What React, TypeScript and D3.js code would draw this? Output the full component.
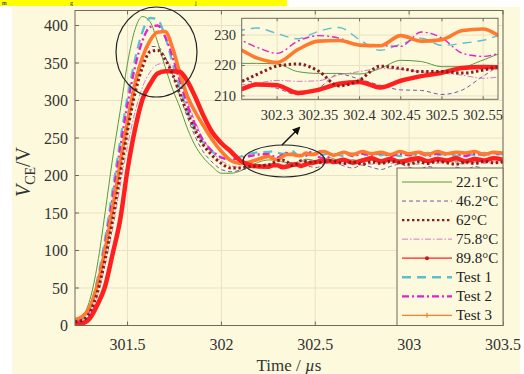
import React from 'react';
import * as d3 from 'd3';

// Time axis (µs) shared by all series
const time = [
  301.22, 301.26, 301.30, 301.34, 301.38, 301.42, 301.46, 301.50, 301.54, 301.58,
  301.62, 301.66, 301.70, 301.74, 301.78, 301.82, 301.86, 301.90, 301.95, 302.00,
  302.05, 302.10, 302.15, 302.20,
  302.25, 302.275, 302.30, 302.325, 302.35, 302.375, 302.40, 302.425, 302.45, 302.475,
  302.50, 302.525, 302.55, 302.575,
  302.6, 302.65, 302.7, 302.75, 302.8, 302.85, 302.9, 302.95, 303.0, 303.05,
  303.1, 303.15, 303.2, 303.25, 303.3, 303.35, 303.4, 303.45, 303.5,
];

const v221 = [
  5, 12, 35, 82, 150, 222, 285, 350, 395, 412, 405, 378, 345, 315, 290, 262, 240, 225, 212, 203,
  203, 206, 212, 218,
  220.7, 220.7, 220.5, 218, 217.4, 217.4, 217.2, 219, 221.7, 221.3, 219.6, 219.6, 221.8, 224,
  222, 219, 221, 218, 220, 217, 219, 221, 218, 220, 217, 220, 222, 219, 221, 218, 220, 222, 220,
];
const v462 = [
  5, 8, 22, 55, 100, 160, 220, 280, 330, 360, 372, 372, 358, 335, 305, 277, 252, 233, 218, 208,
  205, 207, 210, 213,
  215.5, 214.2, 212.5, 210.4, 212.5, 217.2, 215.5, 213.5, 212, 211.8, 210.5, 212, 216.5, 220,
  218, 213, 210, 214, 211, 208, 212, 215, 211, 208, 212, 209, 207, 211, 208, 212, 209, 207, 210,
];
const v62 = [
  5, 7, 18, 45, 88, 140, 200, 260, 310, 345, 365, 367, 355, 335, 308, 283, 260, 242, 227, 216,
  210, 210, 212, 213,
  214.2, 217, 219.8, 220.5, 218.2, 213.3, 215.2, 219.8, 219, 218, 218, 217.5, 218.5, 219.8,
  219, 216, 218, 215, 218, 216, 219, 217, 215, 218, 216, 219, 217, 215, 218, 216, 219, 217, 218,
];
const v758 = [
  5, 6, 15, 40, 80, 128, 185, 240, 285, 318, 338, 348, 350, 345, 325, 298, 272, 250, 232, 220,
  213, 211, 212, 213,
  213.5, 214.2, 215.1, 214.8, 215, 216.9, 218, 219, 218.7, 217.9, 217.5, 216.8, 215.8, 216.5,
  218, 216, 219, 217, 215, 218, 216, 219, 217, 215, 218, 216, 219, 217, 215, 218, 216, 218, 217,
];
const v898 = [
  2, 3, 10, 28, 52, 95, 140, 208, 262, 302, 322, 336, 339, 339, 338, 325, 305, 282, 258, 243,
  232, 220, 214, 212,
  211.8, 213.8, 213.5, 211, 212, 214, 214.6, 212.8, 215, 216.5, 217.6, 219.2, 219.5, 219.3,
  218, 221, 217, 220, 223, 219, 222, 218, 221, 223, 219, 222, 220, 223, 219, 222, 220, 223, 221,
];
const vTest1 = [
  5, 9, 25, 62, 115, 180, 245, 305, 355, 392, 410, 408, 385, 350, 315, 285, 262, 245, 232, 224,
  222, 225, 229, 231,
  231.4, 232.3, 230.5, 228.8, 231.2, 232.5, 228.5, 225, 227, 229, 226.6, 227.3, 228.3, 230,
  229, 226, 229, 227, 230, 227, 229, 226, 229, 227, 230, 227, 229, 226, 229, 227, 230, 228, 229,
];
const vTest2 = [
  5, 8, 22, 58, 108, 170, 235, 295, 345, 380, 398, 400, 385, 358, 325, 293, 268, 248, 233, 224,
  221, 223, 226, 228,
  228.5, 226, 224, 228, 229.8, 229, 226.7, 226.5, 226.3, 231, 229, 224, 223, 224.5,
  227, 230, 226, 229, 227, 230, 226, 229, 227, 230, 226, 229, 228, 230, 226, 229, 227, 230, 228,
];
const vTest3 = [
  8, 12, 25, 55, 100, 155, 215, 272, 322, 358, 380, 391, 392, 370, 335, 305, 285, 268, 248, 232,
  220, 216, 218, 222,
  225.5, 222.5, 221, 225.2, 228, 228.2, 226.7, 226.5, 229.8, 228, 228.5, 231.5, 232, 229,
  227, 231, 228, 232, 229, 231, 228, 232, 229, 231, 228, 232, 229, 231, 230, 232, 228, 231, 230,
];

const legendLabels = ['22.1°C', '46.2°C', '62°C', '75.8°C', '89.8°C', 'Test 1', 'Test 2', 'Test 3'];
const xTicks = [301.5, 302, 302.5, 303, 303.5];
const yTicks = [0, 50, 100, 150, 200, 250, 300, 350, 400];
const insetXTicks = [302.3, 302.35, 302.4, 302.45, 302.5, 302.55];
const insetYTicks = [210, 220, 230];

type Style = { color: string; width: number; dash?: string; legendWidth?: number; marker?: string };
const styles: Style[] = [
  { color: '#5a9a3c', width: 1 },
  { color: '#6a5aa6', width: 1, dash: '4,3' },
  { color: '#8c1c1c', width: 3, dash: '2.4,2.6' },
  { color: '#d77cc4', width: 1, dash: '6,2,1.5,2' },
  { color: '#ff1f1f', width: 4.5, legendWidth: 1.3, marker: 'dot' },
  { color: '#5cbfd0', width: 2.3, dash: '9,6' },
  { color: '#e81ec6', width: 2.3, dash: '7,3,2,3' },
  { color: '#ff7a2e', width: 3.6, legendWidth: 1.4, marker: 'tick' },
];
const seriesValues = [v221, v462, v62, v758, v898, vTest1, vTest2, vTest3];
const drawOrder = [0, 1, 3, 5, 6, 7, 4, 2];

const BG = '#fcf9dd';
const GRID = '#ebe1c4';
const AXIS = '#6f6a5c';
const FONT = 'Liberation Serif, Times New Roman, DejaVu Serif, serif';

export default function App() {
  const x = d3.scaleLinear().domain([301.22, 303.5]).range([75, 503]);
  const y = d3.scaleLinear().domain([0, 420]).range([325.5, 10.5]);
  const xi = d3.scaleLinear().domain([302.257, 302.568]).range([241.7, 498]);
  const yi = d3.scaleLinear().domain([208.9, 235.5]).range([99.3, 18.3]);

  const mainLine = (vals: number[]) =>
    d3.line<number>().x((_, i) => x(time[i])).y((d) => y(d)).curve(d3.curveMonotoneX)(vals) || '';
  const insetLine = (vals: number[]) =>
    d3.line<number>().x((_, i) => xi(time[i])).y((d) => yi(d)).curve(d3.curveMonotoneX)(vals) || '';

  const [x0, x1] = x.range();
  const [y0, y1] = y.range();
  const [ix0, ix1] = xi.range();
  const [iy0, iy1] = yi.range();

  const legX = 397, legY = 168, legW = x1 - 397, legH = y0 - 168;

  return (
    <svg width={524} height={374} style={{ position: 'absolute', left: 0, top: 0, fontFamily: FONT }}>
      <defs>
        <clipPath id="mainClip"><rect x={x0} y={y1} width={x1 - x0} height={y0 - y1} /></clipPath>
        <clipPath id="insetClip"><rect x={ix0} y={iy1} width={ix1 - ix0} height={iy0 - iy1} /></clipPath>
        <marker id="arrowHead" markerWidth="8" markerHeight="8" refX="6" refY="4" orient="auto" markerUnits="userSpaceOnUse">
          <path d="M0,0 L8,4 L0,8 z" fill="#111" />
        </marker>
      </defs>

      <rect x={0} y={0} width={524} height={374} fill="#fff" />
      <rect x={12} y={7} width={508} height={367} fill={BG} />
      <rect x={0} y={0} width={287} height={6} fill="#ffff00" />
      <g fontSize={6} fill="#111">
        <text x={2} y={5}>m</text>
        <text x={70} y={4.5}>g</text>
        <text x={195} y={4.5}>j</text>
      </g>

      {/* main grid */}
      {xTicks.map((t) => (
        <line key={'gx' + t} x1={x(t)} x2={x(t)} y1={y1} y2={y0} stroke={GRID} strokeWidth={1} />
      ))}
      {yTicks.map((t) => (
        <line key={'gy' + t} x1={x0} x2={x1} y1={y(t)} y2={y(t)} stroke={GRID} strokeWidth={1} />
      ))}

      {/* main lines */}
      <g clipPath="url(#mainClip)" fill="none">
        {drawOrder.map((k) => (
          <path key={'m' + k} d={mainLine(seriesValues[k])} stroke={styles[k].color}
            strokeWidth={styles[k].width} strokeDasharray={styles[k].dash} strokeLinejoin="round" />
        ))}
      </g>

      {/* main frame & ticks */}
      <rect x={x0} y={y1} width={x1 - x0} height={y0 - y1} fill="none" stroke={AXIS} strokeWidth={1} />
      {xTicks.map((t) => (
        <g key={'tx' + t}>
          <line x1={x(t)} x2={x(t)} y1={y0} y2={y0 - 4} stroke={AXIS} />
          <line x1={x(t)} x2={x(t)} y1={y1} y2={y1 + 4} stroke={AXIS} />
          <text x={x(t)} y={350} textAnchor="middle" fontSize={16} fill="#333">{t}</text>
        </g>
      ))}
      {yTicks.map((t) => (
        <g key={'ty' + t}>
          <line x1={x0} x2={x0 + 4} y1={y(t)} y2={y(t)} stroke={AXIS} />
          <text x={68} y={y(t) + 5.5} textAnchor="end" fontSize={16} fill="#333">{t}</text>
        </g>
      ))}

      {/* axis labels */}
      <text x={289} y={371} textAnchor="middle" fontSize={17} fill="#333">
        Time / <tspan fontStyle="italic">µ</tspan>s
      </text>
      <text transform="translate(30,172) rotate(-90)" textAnchor="middle" fontSize={20} fill="#333">
        <tspan fontStyle="italic">V</tspan>
        <tspan fontSize={14} dy={5}>CE</tspan>
        <tspan dy={-5}>/V</tspan>
      </text>

      {/* legend */}
      <rect x={legX} y={legY} width={legW} height={legH} fill={BG} stroke={AXIS} strokeWidth={1} />
      {legendLabels.map((lab, k) => {
        const cy = 182 + k * 19.05;
        const s = styles[k];
        return (
          <g key={'lg' + k}>
            <line x1={402} x2={452} y1={cy} y2={cy} stroke={s.color}
              strokeWidth={s.legendWidth ?? Math.min(s.width, 2.4)} strokeDasharray={s.dash} />
            {s.marker === 'dot' && <circle cx={427} cy={cy} r={2} fill="#c41a1a" />}
            {s.marker === 'tick' && <line x1={427} x2={427} y1={cy - 2.5} y2={cy + 2.5} stroke={s.color} strokeWidth={1.2} />}
            <text x={456} y={cy + 5} fontSize={15} fill="#222">{lab}</text>
          </g>
        );
      })}

      {/* inset */}
      <rect x={ix0} y={iy1} width={ix1 - ix0} height={iy0 - iy1} fill={BG} />
      {insetXTicks.map((t) => (
        <line key={'igx' + t} x1={xi(t)} x2={xi(t)} y1={iy1} y2={iy0} stroke={GRID} />
      ))}
      {insetYTicks.map((t) => (
        <line key={'igy' + t} x1={ix0} x2={ix1} y1={yi(t)} y2={yi(t)} stroke={GRID} />
      ))}
      <g clipPath="url(#insetClip)" fill="none">
        {drawOrder.map((k) => (
          <path key={'i' + k} d={insetLine(seriesValues[k])} stroke={styles[k].color}
            strokeWidth={styles[k].width * (k === 5 || k === 6 ? 0.6 : 1)} strokeDasharray={styles[k].dash} strokeLinejoin="round" />
        ))}
      </g>
      <rect x={ix0} y={iy1} width={ix1 - ix0} height={iy0 - iy1} fill="none" stroke={AXIS} strokeWidth={1} />
      {insetXTicks.map((t) => (
        <g key={'itx' + t}>
          <line x1={xi(t)} x2={xi(t)} y1={iy0} y2={iy0 - 3} stroke={AXIS} />
          <line x1={xi(t)} x2={xi(t)} y1={iy1} y2={iy1 + 3} stroke={AXIS} />
          <text x={xi(t)} y={120} textAnchor="middle" fontSize={14.5} fill="#333">{t}</text>
        </g>
      ))}
      {insetYTicks.map((t) => (
        <g key={'ity' + t}>
          <line x1={ix0} x2={ix0 + 3} y1={yi(t)} y2={yi(t)} stroke={AXIS} />
          <text x={236} y={yi(t) + 5} textAnchor="end" fontSize={14.5} fill="#333">{t}</text>
        </g>
      ))}

      {/* annotations */}
      <ellipse cx={156.5} cy={52} rx={40.5} ry={45} fill="none" stroke="#222" strokeWidth={1.2} />
      <ellipse cx={284} cy={161} rx={41} ry={16} fill="none" stroke="#222" strokeWidth={1.2} />
      <line x1={282} y1={145} x2={299} y2={128} stroke="#111" strokeWidth={1.5} markerEnd="url(#arrowHead)" />
    </svg>
  );
}
